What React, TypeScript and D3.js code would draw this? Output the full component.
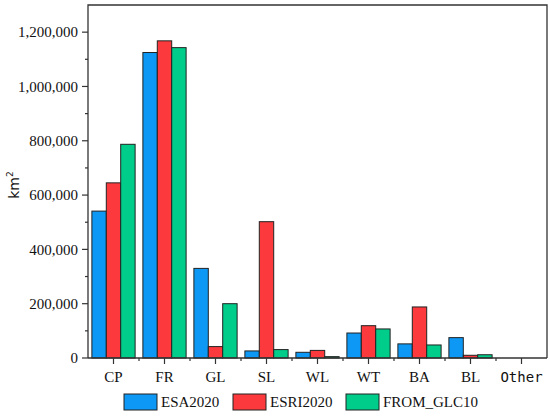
import * as d3 from 'd3';

const categories = ['CP', 'FR', 'GL', 'SL', 'WL', 'WT', 'BA', 'BL', 'Other'];
const seriesNames = ['ESA2020', 'ESRI2020', 'FROM_GLC10'];
const esa2020 = [541000, 1125000, 330000, 26000, 21000, 92000, 52000, 75000, 0];
const esri2020 = [645000, 1168000, 42000, 502000, 28000, 119000, 188000, 10000, 0];
const fromGlc10 = [787000, 1143000, 200000, 31000, 5000, 107000, 48000, 12000, 0];
const yTicks = [0, 200000, 400000, 600000, 800000, 1000000, 1200000];
const colors = ['#0d98f5', '#fc3a3d', '#00cd8a'];

export default function App() {
  const width = 550;
  const height = 416;
  const margin = { top: 5, right: 3, bottom: 58, left: 88 };
  const plotW = width - margin.left - margin.right;
  const plotH = height - margin.top - margin.bottom;

  const series = [esa2020, esri2020, fromGlc10];

  const x = d3.scaleBand().domain(categories).range([0, plotW]).padding(0);
  const inner = d3
    .scaleBand()
    .domain(seriesNames)
    .range([0, x.bandwidth()])
    .paddingOuter(0.27)
    .paddingInner(0);
  const y = d3.scaleLinear().domain([0, 1300000]).range([plotH, 0]);

  const fmt = d3.format(',');
  const minorTicks = d3.range(100000, 1300000, 200000);
  const boundaries = categories.slice(1).map((c) => x(c)!);

  const font = '"Liberation Serif", "Times New Roman", serif';

  return (
    <svg
      width={width}
      height={height}
      style={{ position: 'absolute', left: 0, top: 0, background: '#fff' }}
    >
      <g transform={`translate(${margin.left},${margin.top})`}>
        {series.map((vals, si) =>
          vals.map((v, ci) => (
            <rect
              key={`${si}-${ci}`}
              x={x(categories[ci])! + inner(seriesNames[si])!}
              y={y(v)}
              width={inner.bandwidth()}
              height={plotH - y(v)}
              fill={colors[si]}
              stroke="#222"
              strokeWidth={1}
            />
          ))
        )}

        {/* frame: left, top, right; bottom axis */}
        <path
          d={`M0,${plotH}V0H${plotW}V${plotH}`}
          fill="none"
          stroke="#333"
          strokeWidth={1.3}
        />
        <line x1={0} x2={plotW} y1={plotH} y2={plotH} stroke="#333" strokeWidth={1.3} />

        {/* y ticks */}
        {yTicks.map((t) => (
          <g key={t} transform={`translate(0,${y(t)})`}>
            <line x1={-6} x2={0} stroke="#333" strokeWidth={1.2} />
            <text
              x={-10}
              dy="0.35em"
              textAnchor="end"
              fontFamily={font}
              fontSize={15}
              fill="#111"
            >
              {fmt(t)}
            </text>
          </g>
        ))}
        {minorTicks.map((t) => (
          <line key={t} x1={-3} x2={0} y1={y(t)} y2={y(t)} stroke="#333" strokeWidth={1.2} />
        ))}

        {/* x ticks */}
        {categories.map((c) => (
          <g key={c} transform={`translate(${x(c)! + x.bandwidth() / 2},${plotH})`}>
            <line y1={0} y2={6} stroke="#333" strokeWidth={1.2} />
            <text
              y={24}
              textAnchor="middle"
              fontFamily={c === 'Other' ? '"DejaVu Sans Mono", monospace' : font}
              fontSize={c === 'Other' ? 14 : 15}
              fill="#111"
            >
              {c}
            </text>
          </g>
        ))}
        {boundaries.map((b, i) => (
          <line key={i} x1={b} x2={b} y1={plotH} y2={plotH + 3} stroke="#333" strokeWidth={1.2} />
        ))}
      </g>

      {/* y axis label */}
      <text
        transform={`translate(19,185) rotate(-90)`}
        textAnchor="middle"
        fontFamily='"DejaVu Sans", sans-serif'
        fontSize={14}
        fill="#111"
      >
        km<tspan dy={-6} fontSize={9}>2</tspan>
      </text>

      {/* legend */}
      {seriesNames.map((s, i) => {
        const lx = [124, 233, 346][i];
        return (
          <g key={s} transform={`translate(${lx},394)`}>
            <rect width={33} height={16} fill={colors[i]} stroke="#222" strokeWidth={1} />
            <text x={37} y={13} fontFamily={font} fontSize={15} fill="#111">
              {s}
            </text>
          </g>
        );
      })}
    </svg>
  );
}
